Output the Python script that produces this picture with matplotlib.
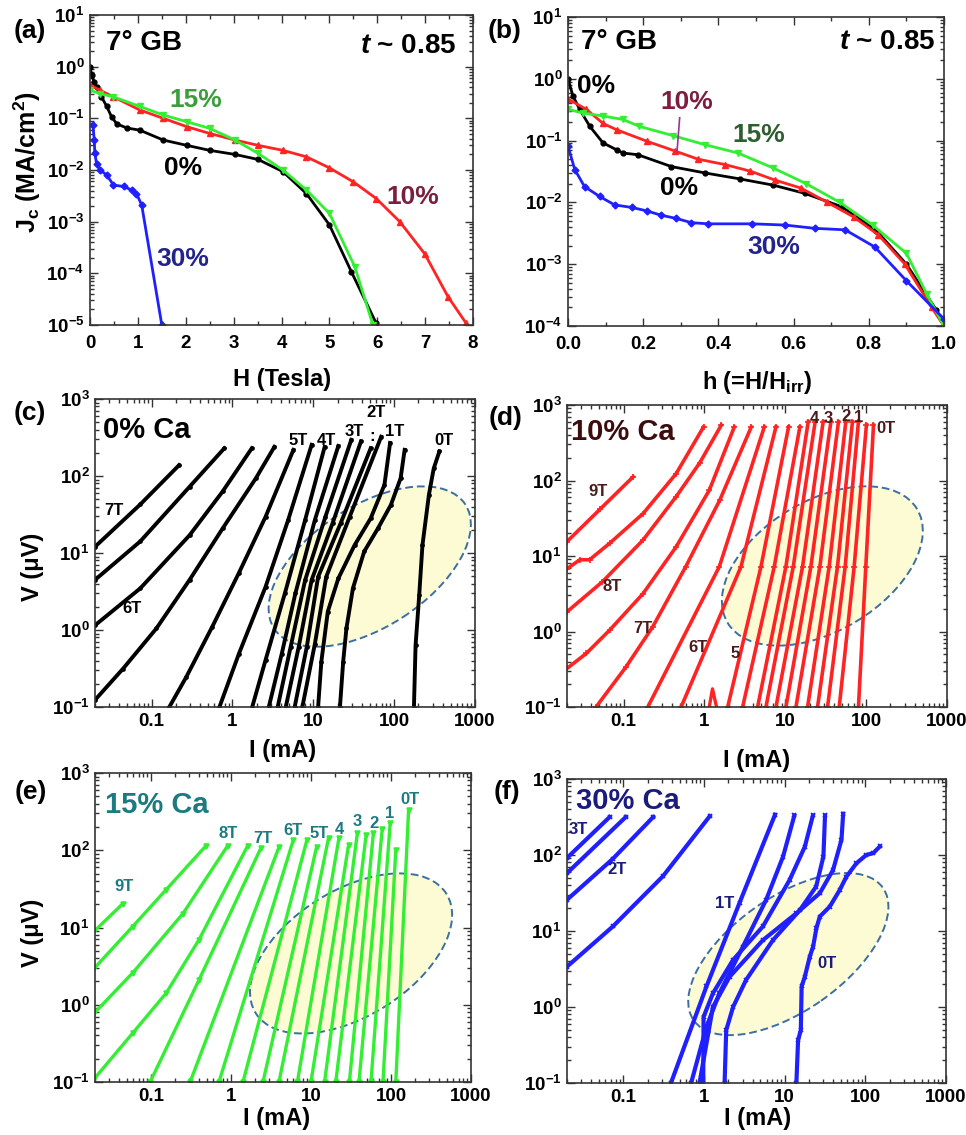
import numpy as np
import matplotlib
matplotlib.use("Agg")
import matplotlib.pyplot as plt
import matplotlib.transforms as mtransforms
from matplotlib.patches import Ellipse
from matplotlib.ticker import (FuncFormatter, LogLocator, MultipleLocator,
                               NullFormatter)

plt.rcParams.update({
    "font.family": ["Liberation Sans", "DejaVu Sans"],
    "font.weight": "bold",
    "mathtext.fontset": "custom",
    "mathtext.rm": "Liberation Sans:bold",
    "mathtext.it": "Liberation Sans:italic:bold",
    "mathtext.bf": "Liberation Sans:bold",
})

# ── (a) Jc vs H ───────────────────────────────────────────────────────
a_H0 = [0, 0.035, 0.083, 0.14, 0.24, 0.35, 0.45, 0.56, 0.77, 1.04, 1.53, 2.02,
        2.5, 3.03, 3.51, 4.03, 4.52, 5.0, 5.46, 5.98]
a_J0 = [1.0, 0.69, 0.51, 0.40, 0.26, 0.17, 0.107, 0.078, 0.065, 0.059, 0.038,
        0.030, 0.024, 0.020, 0.016, 0.0093, 0.0035, 8.7e-4, 1.07e-4, 1.07e-5]
a_H10 = [0, 0.21, 0.49, 1.04, 1.53, 2.02, 2.5, 3.03, 3.51, 4.03, 4.52, 5.0,
         5.5, 5.98, 6.47, 6.99, 7.48, 7.86]
a_J10 = [0.44, 0.35, 0.26, 0.145, 0.10, 0.069, 0.051, 0.038, 0.030, 0.024,
         0.018, 0.011, 0.0059, 0.0028, 0.0010, 2.4e-4, 3.5e-5, 1.07e-5]
a_H15 = [0, 0.21, 0.49, 1.04, 1.53, 2.02, 2.5, 3.03, 3.51, 4.03, 4.52, 5.0,
         5.53, 5.91]
a_J15 = [0.35, 0.30, 0.26, 0.17, 0.116, 0.086, 0.064, 0.038, 0.021, 0.010,
         0.0041, 0.00145, 1.35e-4, 1.0e-5]
a_H30 = [0.06, 0.09, 0.10, 0.14, 0.21, 0.35, 0.49, 0.70, 0.87, 0.97, 1.08, 1.50]
a_J30 = [0.074, 0.038, 0.021, 0.013, 0.010, 0.008, 0.0051, 0.0048, 0.0041,
         0.0035, 0.0021, 1.0e-5]

# ── (b) Jc vs h = H/Hirr ──────────────────────────────────────────────
b_h0 = [0.0, 0.013, 0.031, 0.058, 0.093, 0.129, 0.146, 0.186, 0.275, 0.364,
        0.457, 0.546, 0.63, 0.728, 0.82, 0.90, 0.98, 1.0]
b_J0 = [1.0, 0.53, 0.32, 0.17, 0.092, 0.071, 0.063, 0.059, 0.038, 0.030,
        0.024, 0.019, 0.014, 0.0085, 0.0035, 0.0010, 1.8e-4, 1.0e-4]
b_h10 = [0.0, 0.049, 0.093, 0.129, 0.209, 0.284, 0.346, 0.417, 0.485, 0.55,
         0.62, 0.69, 0.76, 0.825, 0.896, 0.967, 1.0]
b_J10 = [0.47, 0.32, 0.19, 0.15, 0.098, 0.068, 0.050, 0.041, 0.032, 0.023,
         0.017, 0.010, 0.0058, 0.0030, 0.0010, 2.0e-4, 1.0e-4]
b_h15 = [0.0, 0.04, 0.093, 0.146, 0.19, 0.28, 0.364, 0.452, 0.546, 0.634,
         0.723, 0.81, 0.90, 0.954, 1.0]
b_J15 = [0.32, 0.28, 0.25, 0.22, 0.17, 0.12, 0.086, 0.063, 0.036, 0.020,
         0.010, 0.0043, 0.0015, 3.3e-4, 1.0e-4]
b_h30 = [0.0, 0.018, 0.044, 0.084, 0.124, 0.169, 0.209, 0.248, 0.288, 0.328,
         0.373, 0.49, 0.577, 0.657, 0.737, 0.816, 0.90, 1.0]
b_J30 = [0.081, 0.034, 0.018, 0.0125, 0.0091, 0.0083, 0.0073, 0.0062, 0.0055,
         0.0047, 0.0045, 0.0045, 0.0043, 0.0038, 0.0036, 0.0019, 5.4e-4, 1.3e-4]

# ── (c)-(f) V-I curves, stored as log10(I / mA) and log10(V / uV) ─────
c_logI = [
    [-1.70, -1.14, -0.66],
    [-1.70, -1.14, -0.53, -0.10],
    [-1.70, -1.14, -0.53, -0.12, 0.24],
    [-1.70, -1.35, -0.94, -0.53, -0.12, 0.29, 0.52],
    [-0.78, -0.57, -0.25, 0.08, 0.41, 0.755],
    [-0.16, 0.08, 0.41, 0.69, 0.98],
    [0.245, 0.41, 0.65, 0.90, 1.14],
    [0.45, 0.61, 0.78, 1.02, 1.31],
    [0.56, 0.72, 0.90, 1.15, 1.47],
    [0.66, 0.82, 0.98, 1.24, 1.59],
    [0.77, 0.92, 1.06, 1.34, 1.71],
    [0.865, 1.02, 1.16, 1.45, 1.84],
    [1.06, 1.10, 1.18, 1.31, 1.51, 1.71, 1.88, 1.95],
    [1.33, 1.37, 1.41, 1.49, 1.63, 1.80, 1.96, 2.08, 2.13],
    [2.245, 2.265, 2.31, 2.35, 2.43, 2.49, 2.56],
]
c_logV = [
    [1.08, 1.63, 2.14],
    [0.65, 1.15, 1.86, 2.36],
    [0.06, 0.54, 1.23, 1.80, 2.36],
    [-0.91, -0.50, 0.02, 0.65, 1.32, 1.97, 2.38],
    [-1.0, -0.61, 0.04, 0.74, 1.47, 2.34],
    [-1.0, -0.31, 0.56, 1.43, 2.405],
    [-1.0, -0.39, 0.48, 1.43, 2.375],
    [-1.0, -0.31, 0.48, 1.43, 2.39],
    [-1.0, -0.22, 0.65, 1.47, 2.47],
    [-1.0, -0.22, 0.65, 1.39, 2.45],
    [-1.0, -0.22, 0.69, 1.39, 2.36],
    [-1.0, -0.18, 0.69, 1.47, 2.51],
    [-1.0, -0.41, 0.24, 0.67, 1.10, 1.45, 1.885, 2.43],
    [-1.0, -0.41, 0.02, 0.54, 1.02, 1.32, 1.625, 1.97, 2.34],
    [-1.0, -0.20, 0.45, 1.10, 1.755, 2.10, 2.32],
]

d_logI = [
    [-1.70, -1.29, -0.88],
    [-1.70, -1.54, -1.42, -1.17, -0.76, -0.35, -0.01],
    [-1.70, -1.26, -0.76, -0.35, -0.06, 0.21],
    [-1.70, -1.46, -1.17, -0.76, -0.35, 0.06, 0.37],
    [-1.34, -0.97, -0.64, -0.23, 0.19, 0.58],
    [-0.70, 0.185, 0.741],
    [-0.288, 0.453, 0.885],
    [0.288, 0.700, 1.041],
    [0.473, 0.864, 1.181],
    [0.658, 1.008, 1.284],
    [0.761, 1.099, 1.370],
    [0.885, 1.214, 1.469],
    [1.008, 1.317, 1.564],
    [1.132, 1.428, 1.658],
    [1.276, 1.543, 1.749],
    [1.399, 1.646, 1.831],
    [1.523, 1.741, 1.905],
    [1.667, 1.852, 2.004],
    [1.905, 1.996, 2.091],
]
d_logV = [
    [1.19, 1.62, 2.05],
    [0.83, 0.95, 0.95, 1.17, 1.56, 2.09, 2.71],
    [0.26, 0.66, 1.21, 1.785, 2.23, 2.735],
    [-0.49, -0.29, 0.02, 0.50, 1.12, 1.87, 2.71],
    [-1.0, -0.47, 0.06, 0.86, 1.74, 2.71],
    [-1.0, 0.86, 2.71],
    [-1.0, 0.86, 2.71],
    [-1.0, 0.86, 2.71],
    [-1.0, 0.86, 2.71],
    [-1.0, 0.86, 2.78],
    [-1.0, 0.86, 2.78],
    [-1.0, 0.86, 2.78],
    [-1.0, 0.86, 2.78],
    [-1.0, 0.86, 2.78],
    [-1.0, 0.86, 2.78],
    [-1.0, 0.86, 2.78],
    [-1.0, 0.86, 2.78],
    [-1.0, 0.86, 2.74],
    [-1.0, 0.86, 2.735],
]
d_spike_logI = [0.06, 0.10, 0.15]
d_spike_logV = [-1.0, -0.76, -1.0]

e_logI = [
    [-1.71, -1.35],
    [-1.71, -1.23, -0.81, -0.31],
    [-1.71, -1.23, -0.60, -0.04],
    [-1.71, -1.23, -0.81, -0.40, 0.21],
    [-1.01, -0.40, 0.375],
    [-0.51, 0.60],
    [-0.15, 0.78],
    [0.15, 0.95],
    [0.40, 1.07],
    [0.60, 1.22],
    [0.83, 1.35],
    [1.00, 1.47],
    [1.17, 1.58],
    [1.31, 1.69],
    [1.48, 1.78],
    [1.60, 1.89],
    [1.75, 1.99],
    [1.90, 2.06],
    [2.06, 2.22],
]
e_logV = [
    [0.95, 1.31],
    [0.47, 1.01, 1.49, 2.06],
    [-0.11, 0.41, 1.18, 2.06],
    [-0.96, -0.37, 0.15, 0.84, 2.06],
    [-1.0, 0.32, 2.03],
    [-1.0, 2.04],
    [-1.0, 2.135],
    [-1.0, 2.135],
    [-1.0, 2.04],
    [-1.0, 2.16],
    [-1.0, 2.16],
    [-1.0, 2.07],
    [-1.0, 2.22],
    [-1.0, 2.20],
    [-1.0, 2.22],
    [-1.0, 2.27],
    [-1.0, 2.35],
    [-1.0, 2.00],
    [-1.0, 2.52],
]

f_logI = [
    [-1.70, -1.17],
    [-1.70, -0.97],
    [-1.70, -1.13, -0.63],
    [-1.70, -1.13, -0.51, 0.07],
    [-0.41, 0.03, 0.44, 0.88],
    [-0.16, 0.03, 0.19, 0.48, 0.77, 0.98, 1.12],
    [-0.01, -0.006, 0.11, 0.36, 0.73, 1.06, 1.25, 1.35],
    [0.255, 0.275, 0.36, 0.52, 0.855, 1.19, 1.39, 1.48, 1.50],
    [-0.056, 0.11, 0.317, 0.731, 1.145, 1.435, 1.60, 1.704, 1.725],
    [1.145, 1.166, 1.20, 1.21, 1.25, 1.311, 1.352, 1.393, 1.435, 1.559,
     1.683, 1.766, 1.890, 2.014, 2.097, 2.180],
]
f_logV = [
    [1.96, 2.50],
    [1.76, 2.50],
    [1.41, 1.95, 2.50],
    [0.53, 1.06, 1.72, 2.51],
    [-1.0, 0.27, 1.37, 2.53],
    [-1.0, -0.26, 0.18, 0.79, 1.41, 1.98, 2.52],
    [-1.0, -0.13, 0.18, 0.62, 1.06, 1.67, 2.11, 2.52],
    [-1.0, -0.305, 0.0, 0.354, 0.881, 1.277, 1.585, 1.98, 2.52],
    [-1.0, 0.0, 0.398, 0.881, 1.233, 1.497, 1.804, 2.20, 2.543],
    [-1.0, -0.44, -0.30, 0.27, 0.40, 0.662, 0.793, 1.035, 1.189, 1.321,
     1.541, 1.716, 1.892, 2.002, 2.024, 2.112],
]

# field labels (text, I, V)
c_labels = [("7T", 0.034, 36), ("6T", 0.057, 1.9), ("5T", 6.5, 289),
            ("4T", 14.6, 289), ("3T", 32, 380), ("2T", 60, 660),
            (":", 54, 330), ("1T", 102, 380), ("0T", 408, 289)]
d_labels = [("9T", 0.048, 71), ("8T", 0.072, 4.0), ("7T", 0.173, 1.1),
            ("6T", 0.83, 0.62), ("5", 2.4, 0.51), ("4", 22.8, 665),
            ("3", 34, 665), ("2", 56, 700), ("1", 80, 690), ("0T", 175, 490)]
e_labels = [("9T", 0.046, 34), ("8T", 0.91, 167), ("7T", 2.49, 144),
            ("6T", 5.9, 180), ("5T", 12.7, 167), ("4", 22.6, 187),
            ("3", 38, 236), ("2", 62, 224), ("1", 97, 302), ("0T", 173, 451)]
f_labels = [("3T", 0.0279, 219), ("2T", 0.083, 64), ("1T", 1.8, 23),
            ("0T", 33, 3.7)]

# ── colours ───────────────────────────────────────────────────────────
RED, GREEN, BLUE = "#ff2323", "#33ee33", "#2020ff"
MAROON, NAVY = "#7a1f3d", "#23238c"

W, H = 966, 1135
fig = plt.figure(figsize=(W / 100, H / 100), dpi=100)


def add_ax(l, t, r, b):
    return fig.add_axes([l / W, 1 - b / H, (r - l) / W, (b - t) / H])


def pow10(v, pos):
    return r"$10^{%d}$" % int(round(np.log10(v)))


def style(ax):
    ax.tick_params(which="both", direction="in", top=True, right=True,
                   width=1.0, color="#333333")
    ax.tick_params(which="major", length=6, labelsize=13.5, pad=4)
    ax.tick_params(which="minor", length=3)
    for s in ax.spines.values():
        s.set_linewidth(1.2)
        s.set_color("#333333")
    ax.set_yscale("log")
    ax.yaxis.set_major_locator(LogLocator(base=10, numticks=20))
    ax.yaxis.set_minor_locator(LogLocator(base=10, subs=np.arange(2, 10), numticks=40))
    ax.yaxis.set_major_formatter(FuncFormatter(pow10))
    ax.yaxis.set_minor_formatter(NullFormatter())


def vi_axes(ax):
    style(ax)
    ax.set_xscale("log")
    ax.set_xlim(0.02, 1000)
    ax.set_ylim(0.1, 1000)
    ax.xaxis.set_major_locator(LogLocator(base=10, numticks=20))
    ax.xaxis.set_minor_locator(LogLocator(base=10, subs=np.arange(2, 10), numticks=40))
    ax.xaxis.set_major_formatter(FuncFormatter(lambda v, p: "%g" % v))
    ax.xaxis.set_minor_formatter(NullFormatter())


def blob(ax, cx, cy, w, h, ang):
    # dashed yellow ellipse, sized in pixels, centred in axes fraction
    bb = ax.get_position()
    sx, sy = bb.width * W, bb.height * H
    tr = mtransforms.Affine2D().scale(1 / sx, 1 / sy) + ax.transAxes
    ax.add_patch(Ellipse((cx * sx, cy * sy), w, h, angle=ang, transform=tr,
                         facecolor="#fdfbd4", edgecolor="#3a6ea5",
                         ls=(0, (4, 2)), lw=1.4, zorder=0.5))


def draw_vi(ax, logI, logV, color, marker, ms, lw):
    for li, lv in zip(logI, logV):
        ax.plot(10 ** np.array(li), 10 ** np.array(lv), color=color, lw=lw,
                marker=marker, ms=ms, mew=1.2, zorder=2)


# ── (a) ───────────────────────────────────────────────────────────────
ax = add_ax(90, 15, 473, 325)
style(ax)
ax.tick_params(axis="x", which="major", pad=7)
ax.set_xlim(0, 8)
ax.set_ylim(1e-5, 10)
ax.xaxis.set_major_locator(MultipleLocator(1))
ax.xaxis.set_minor_locator(MultipleLocator(0.5))
ax.plot(a_H0, a_J0, color="black", lw=2, marker="o", ms=3.5)
ax.plot(a_H10, a_J10, color=RED, lw=2, marker="^", ms=4.5)
ax.plot(a_H15, a_J15, color=GREEN, lw=2, marker="v", ms=4.5)
ax.plot(a_H30, a_J30, color=BLUE, lw=2, marker="D", ms=3.5)
ax.text(0.042, 0.909, "7° GB", transform=ax.transAxes, fontsize=20, va="center")
ax.text(0.957, 0.9, r"$t$ ~ 0.85", transform=ax.transAxes, fontsize=20,
        ha="right", va="center")
for txt, x, y, c in [("15%", 2.21, 0.226, "#3a9e3a"), ("0%", 1.95, 0.0107, "black"),
                     ("10%", 6.75, 0.00305, MAROON), ("30%", 1.93, 1.86e-4, NAVY)]:
    ax.text(x, y, txt, color=c, fontsize=19, ha="center", va="center")

# ── (b) ───────────────────────────────────────────────────────────────
ax = add_ax(568, 17, 944, 326)
style(ax)
ax.tick_params(axis="x", which="major", pad=7)
ax.set_xlim(0, 1)
ax.set_ylim(1e-4, 10)
ax.xaxis.set_major_locator(MultipleLocator(0.2))
ax.xaxis.set_minor_locator(MultipleLocator(0.1))
ax.xaxis.set_major_formatter(FuncFormatter(lambda v, p: "%.1f" % v))
ax.plot(b_h0, b_J0, color="black", lw=2, marker="o", ms=3.5)
ax.plot(b_h10, b_J10, color=RED, lw=2, marker="^", ms=4.5)
ax.plot(b_h15, b_J15, color=GREEN, lw=2, marker="v", ms=4.5)
ax.plot(b_h30, b_J30, color=BLUE, lw=2, marker="D", ms=3.5)
ax.plot([0.297, 0.290], [0.234, 0.067], color="#9b30a0", lw=1.2)
ax.text(0.035, 0.918, "7° GB", transform=ax.transAxes, fontsize=20, va="center")
ax.text(0.976, 0.918, r"$t$ ~ 0.85", transform=ax.transAxes, fontsize=20,
        ha="right", va="center")
for txt, x, y, c in [("0%", 0.075, 0.77, "black"), ("10%", 0.315, 0.42, MAROON),
                     ("15%", 0.508, 0.121, "#2d5e2d"), ("0%", 0.295, 0.0174, "black"),
                     ("30%", 0.546, 0.0019, NAVY)]:
    ax.text(x, y, txt, color=c, fontsize=19, ha="center", va="center")

# ── (c) ───────────────────────────────────────────────────────────────
ax = add_ax(95, 399, 475, 707)
vi_axes(ax)
blob(ax, 0.723, 0.456, 228, 121, 33)
draw_vi(ax, c_logI, c_logV, "black", "o", 2.2, 2.8)
ax.text(0.022, 0.90, "0% Ca", transform=ax.transAxes, fontsize=21, va="center")
for txt, x, y in c_labels:
    ax.text(x, y, txt, fontsize=12, ha="center", va="center")

# ── (d) ───────────────────────────────────────────────────────────────
ax = add_ax(567, 405, 947, 707)
vi_axes(ax)
blob(ax, 0.672, 0.467, 221, 130, 31)
draw_vi(ax, d_logI, d_logV, RED, "+", 4, 2.6)
ax.plot(10 ** np.array(d_spike_logI), 10 ** np.array(d_spike_logV), color=RED, lw=2.4)
ax.text(0.011, 0.91, "10% Ca", transform=ax.transAxes, fontsize=21,
        va="center", color="#3d0d0d")
for txt, x, y in d_labels:
    ax.text(x, y, txt, fontsize=12, ha="center", va="center", color="#4b1b1b")

# ── (e) ───────────────────────────────────────────────────────────────
ax = add_ax(95, 773, 471, 1082)
vi_axes(ax)
blob(ax, 0.681, 0.416, 225, 126, 32)
draw_vi(ax, e_logI, e_logV, GREEN, "v", 3.5, 2.4)
ax.text(0.027, 0.897, "15% Ca", transform=ax.transAxes, fontsize=21,
        va="center", color="#1c7a80")
for txt, x, y in e_labels:
    ax.text(x, y, txt, fontsize=12, ha="center", va="center", color="#1c7a80")

# ── (f) ───────────────────────────────────────────────────────────────
ax = add_ax(567, 779, 946, 1083)
vi_axes(ax)
blob(ax, 0.584, 0.424, 231, 114, 35)
draw_vi(ax, f_logI, f_logV, BLUE, "x", 3, 3.0)
ax.text(0.025, 0.926, "30% Ca", transform=ax.transAxes, fontsize=21,
        va="center", color="#1b1b7b")
for txt, x, y in f_labels:
    ax.text(x, y, txt, fontsize=12, ha="center", va="center", color="#1b1b7b")

# ── shared labels ─────────────────────────────────────────────────────
def ftext(x, y, s, **kw):
    fig.text(x / W, 1 - y / H, s, ha="center", va="center", **kw)


for s, x, y in [("(a)", 30, 31), ("(b)", 505, 31), ("(c)", 30, 413),
                ("(d)", 506, 418), ("(e)", 31, 792), ("(f)", 507, 792)]:
    ftext(x, y, s, fontsize=19)
ftext(282, 380, "H (Tesla)", fontsize=17)
ftext(757, 382, r"h (=H/H$_\mathrm{irr}$)", fontsize=17)
ftext(27, 162, r"J$_\mathrm{c}$ (MA/cm$^\mathrm{2}$)", fontsize=18, rotation=90)
ftext(32, 567, "V (μV)", fontsize=17, rotation=90)
ftext(32, 933, "V (μV)", fontsize=17, rotation=90)
for x, y in [(283, 750), (757, 760), (277, 1118), (758, 1118)]:
    ftext(x, y, "I (mA)", fontsize=17)

fig.savefig("out.png", dpi=100)
